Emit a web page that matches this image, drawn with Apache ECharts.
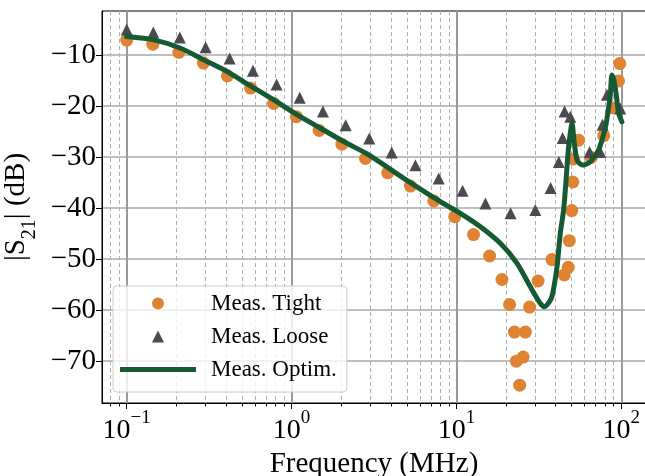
<!DOCTYPE html>
<html><head><meta charset="utf-8">
<script src="https://cdn.jsdelivr.net/npm/echarts@6/dist/echarts.min.js"></script>
<style>html,body{margin:0;padding:0;background:#fff}#c{width:645px;height:476px}</style>
</head><body><div id="c"></div>
<script>
// ---- data ----
const freqTight = [0.1, 0.144, 0.207, 0.292, 0.408, 0.564, 0.778, 1.07, 1.47, 2.02, 2.81, 3.83, 5.26, 7.29, 9.77, 12.7, 15.9, 18.9, 21.0, 22.5, 23.1, 24.2, 25.4, 26.2, 27.8, 31.3, 38.0, 45.1, 47.7, 48.4, 50.1, 50.8, 51.4, 55.1, 65.8, 78.3, 89.4, 96.3, 97.9];
const s21Tight = [-7.1, -7.9, -9.5, -11.6, -14.1, -16.5, -19.5, -22.1, -24.8, -27.5, -30.3, -33.1, -35.7, -38.6, -41.7, -45.2, -49.4, -54.0, -58.9, -64.3, -70.0, -74.7, -69.2, -64.3, -59.4, -54.3, -50.1, -53.1, -51.6, -46.4, -40.5, -34.9, -30.4, -26.7, -30.1, -25.8, -20.4, -15.1, -11.7];

const freqLoose = [0.1, 0.145, 0.210, 0.301, 0.421, 0.583, 0.811, 1.12, 1.55, 2.13, 2.96, 4.05, 5.64, 7.81, 10.9, 15.0, 21.3, 30.1, 37.3, 41.8, 44.1, 45.3, 49.1, 64.3, 74.6, 77.0, 81.9, 98.6];
const s21Loose = [-5.0, -5.6, -6.6, -8.5, -10.7, -13.1, -15.8, -18.4, -21.1, -23.8, -26.4, -29.1, -31.6, -34.2, -36.6, -39.1, -41.0, -40.4, -36.1, -31.0, -26.3, -21.1, -22.1, -29.0, -29.0, -23.7, -17.8, -20.5];

const freqOptim = [0.1, 0.146, 0.2125, 0.294, 0.4075, 0.564, 0.781, 1.083, 1.499, 2.075, 2.876, 4.793, 8.0, 10.57, 13.98, 18.48, 23.33, 28.09, 32.29, 34.15, 36.6, 38.17, 40.77, 42.69, 44.7, 45.78, 47.73, 49.1, 50.25, 51.9, 53.9, 56.4, 59.1, 64.9, 72.85, 80.0, 83.4, 85.8, 87.8, 90.1, 93.3, 96.3, 100.9];
const s21Optim = [-6.4, -7.06, -8.69, -10.98, -13.27, -16.08, -18.82, -21.76, -24.37, -27.0, -29.41, -34.18, -38.76, -41.04, -43.67, -46.92, -50.84, -55.43, -58.69, -59.35, -58.4, -57.06, -51.51, -44.96, -40.39, -36.47, -28.63, -25.29, -23.39, -27.31, -30.59, -31.37, -31.57, -30.92, -28.63, -24.31, -20.78, -17.84, -13.92, -14.9, -17.84, -21.37, -23.08];

const xMajorTicks = [0.1, 1, 10, 100];
const xMinorTicks = [0.08, 0.09, 0.2, 0.3, 0.4, 0.5, 0.6, 0.7, 0.8, 0.9, 2, 3, 4, 5, 6, 7, 8, 9, 20, 30, 40, 50, 60, 70, 80, 90];
const yTicks = [-70, -60, -50, -40, -30, -20, -10];
const seriesNames = ['Meas. Tight', 'Meas. Loose', 'Meas. Optim.'];

// ---- chart ----
const FONT = 'Liberation Serif';
const COL_TIGHT = '#DF8232', COL_LOOSE = '#4A4A50', COL_OPT = '#165A34';
const xmin = 0.0708, xmax = 141.3, ymin = -78.2, ymax = -1.4;
const zip = (a, b) => a.map((v, i) => [v, b[i]]);
const expOf = v => { const e = Math.round(Math.log10(v)); return e < 0 ? '\u2212' + (-e) : String(e); };

const chart = echarts.init(document.getElementById('c'), null, {renderer: 'canvas'});
chart.setOption({
  animation: false,
  backgroundColor: '#fff',
  textStyle: {fontFamily: FONT, color: '#000'},
  grid: {left: 102, right: -1, top: 11, bottom: 73, containLabel: false, outerBoundsMode: 'none',
         show: true, borderColor: '#000', borderWidth: 1, backgroundColor: 'transparent'},
  xAxis: [
    {
      type: 'log', logBase: 10, min: xmin, max: xmax, position: 'bottom',
      axisLine: {show: true, onZero: false, lineStyle: {color: '#000', width: 1}},
      axisTick: {show: true, customValues: xMajorTicks, length: 6, lineStyle: {color: '#000', width: 1}},
      axisLabel: {
        customValues: xMajorTicks, margin: 6, color: '#000', fontFamily: FONT,
        formatter: v => '{b|10}{s|' + expOf(v) + '}',
        rich: {
          b: {fontFamily: FONT, fontSize: 28, color: '#000', verticalAlign: 'bottom'},
          s: {fontFamily: FONT, fontSize: 19, color: '#000', lineHeight: 36, verticalAlign: 'top'}
        }
      },
      splitLine: {show: true, lineStyle: {color: '#9a9a9a', width: 2}},
      name: 'Frequency (MHz)', nameLocation: 'middle', nameGap: 46,
      nameTextStyle: {fontFamily: FONT, fontSize: 29, color: '#000', verticalAlign: 'top'}
    },
    {
      type: 'log', logBase: 10, min: xmin, max: xmax, position: 'bottom',
      axisLine: {show: false},
      axisTick: {show: true, customValues: xMinorTicks, length: 3.5, lineStyle: {color: '#000', width: 1}},
      axisLabel: {show: false},
      splitLine: {show: true, lineStyle: {color: '#b0b0b0', width: 1, type: [4, 3]}}
    }
  ],
  yAxis: {
    type: 'value', min: ymin, max: ymax,
    axisLine: {show: true, onZero: false, lineStyle: {color: '#000', width: 1}},
    axisTick: {show: true, customValues: yTicks, length: 6, lineStyle: {color: '#000', width: 1}},
    axisLabel: {customValues: yTicks, margin: 6, color: '#000', fontFamily: FONT, fontSize: 29,
      formatter: v => '\u2212' + Math.abs(v)},
    splitLine: {show: true, lineStyle: {color: '#a8a8a8', width: 1.5}},
    name: '{n||S}{s|21}{n|| (dB)}', nameLocation: 'middle', nameGap: 62, nameRotate: 90,
    nameTextStyle: {
      color: '#000', fontFamily: FONT,
      rich: {
        n: {fontFamily: FONT, fontSize: 29, color: '#000', verticalAlign: 'top'},
        s: {fontFamily: FONT, fontSize: 20, color: '#000', lineHeight: 38, verticalAlign: 'bottom'}
      }
    }
  },
  legend: {
    orient: 'vertical', left: 113, top: 286,
    itemWidth: 76, itemHeight: 12, itemGap: 10,
    padding: [6, 10, 11, 7],
    backgroundColor: 'rgba(255,255,255,0.8)', borderColor: '#cccccc', borderWidth: 1, borderRadius: 4,
    formatter: n => '{t|' + n + '}',
    textStyle: {color: '#000', fontFamily: FONT, rich: {t: {fontFamily: FONT, fontSize: 23, color: '#000', lineHeight: 23, padding: [0, 0, 0, 10]}}},
    data: [
      {name: seriesNames[0], icon: 'circle', itemStyle: {color: COL_TIGHT, borderWidth: 0}},
      {name: seriesNames[1], icon: 'path://M1,0L2,2L0,2Z', itemStyle: {color: COL_LOOSE, borderWidth: 0}},
      {name: seriesNames[2], icon: 'path://M0,0H76V5H0Z', itemStyle: {color: COL_OPT, borderWidth: 0}}
    ]
  },
  series: [
    {name: seriesNames[0], type: 'scatter', xAxisIndex: 0, data: zip(freqTight, s21Tight),
     symbol: 'circle', symbolSize: 13, itemStyle: {color: COL_TIGHT, opacity: 1}, z: 2},
    {name: seriesNames[1], type: 'scatter', xAxisIndex: 0, data: zip(freqLoose, s21Loose),
     symbol: 'triangle', symbolSize: 12, itemStyle: {color: COL_LOOSE, opacity: 1}, z: 3},
    {name: seriesNames[2], type: 'line', xAxisIndex: 0, data: zip(freqOptim, s21Optim),
     symbol: 'none', showSymbol: false, smooth: 0.25, color: COL_OPT,
     lineStyle: {color: COL_OPT, width: 5, join: 'round', cap: 'round'}, itemStyle: {color: COL_OPT}, z: 4}
  ]
});
</script></body></html>
